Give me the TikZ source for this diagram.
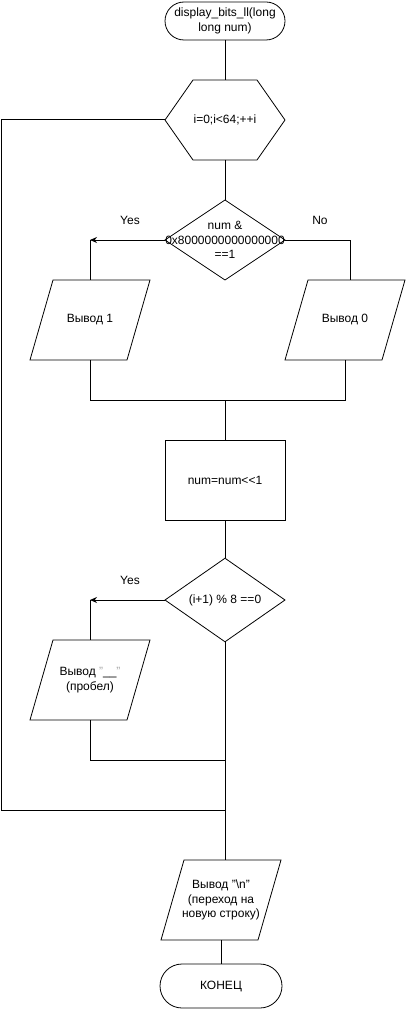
\documentclass[tikz,border=0pt]{standalone}
\usepackage{fontspec}
\setmainfont{Liberation Sans}
\usetikzlibrary{shapes.geometric,arrows.meta}
\newcommand\ioshape[1]{\draw[shp] ([xshift=11.5pt]#1.north west) -- ([xshift=11.5pt]#1.north east) -- ([xshift=-11.5pt]#1.south east) -- ([xshift=-11.5pt]#1.south west) -- cycle;}
\begin{document}
\begin{tikzpicture}[x=1pt,y=-1pt,
  every node/.style={font=\fontsize{12}{14.5}\selectfont, inner sep=0pt, outer sep=0pt, align=center},
  shp/.style={draw=black, line width=0.8pt},
  term/.style={shp, rectangle, rounded corners=19pt, minimum width=120pt, minimum height=38pt},
  proc/.style={shp, rectangle, minimum width=120pt, minimum height=80pt},
  dia/.style={shp, diamond, minimum width=120pt, minimum height=80pt},
  frame/.style={draw=none, rectangle, minimum width=97pt, minimum height=80pt},
  conn/.style={draw=black, line width=1pt},
  arr/.style={conn, -{Stealth[length=7pt,width=6pt]}}
]
\useasboundingbox (0,0) rectangle (405,1011);
% nodes
\node[term] (t1) at (225,21) {display\_bits\_ll(long\\long num)};
\node[frame, minimum width=120pt] (h) at (225,120) {i=0;i<64;++i};
\draw[shp] (h.west) -- ([xshift=28pt]h.north west) -- ([xshift=-28pt]h.north east) -- (h.east) -- ([xshift=-28pt]h.south east) -- ([xshift=28pt]h.south west) -- cycle;
\node[dia] (d1) at (225,240) {};
\node (d1t) at (225,240) {num \&\\0x8000000000000000\\==1};
\node[frame] (p1) at (90,320) {Вывод 1};
\ioshape{p1}
\node[frame] (p2) at (345,320) {Вывод 0};
\ioshape{p2}
\node[proc] (r) at (225,480) {num=num<{}<1};
\node[dia] (d2) at (225,600) {(i+1) \% 8 ==0};
\node[frame] (p3) at (90,680) {Вывод \textcolor{black!35}{"}\_\_\textcolor{black!35}{"}\\(пробел)};
\ioshape{p3}
\node[frame] (p4) at (221,900) {Вывод "\textbackslash n"\\(переход на\\новую строку)};
\ioshape{p4}
\node[term, minimum width=122pt, minimum height=44pt, rounded corners=22pt] (t2) at (221,986) {КОНЕЦ};
% labels
\node (yes1) at (130,220) {Yes};
\node (no1) at (320,220) {No};
\node (yes2) at (130,580) {Yes};
% coordinates
\coordinate (c1) at (90,240);
\coordinate (c2) at (350,240);
\coordinate (m1) at (225,400);
\coordinate (c3) at (90,600);
\coordinate (j1) at (225,760);
\coordinate (l1) at (1,120);
\coordinate (j2) at (225,810);
% connectors
\draw[conn] (t1.south) -- (h.north);
\draw[conn] (h.south) -- (d1.north);
\draw[arr] (d1.west) -- (c1);
\draw[conn] (c1) -- (p1.north);
\draw[conn] (d1.east) -- (c2) -- (c2 |- p2.north);
\draw[conn] (p1.south) |- (m1);
\draw[conn] (p2.south) |- (m1);
\draw[conn] (m1) -- (r.north);
\draw[conn] (r.south) -- (d2.north);
\draw[arr] (d2.west) -- (c3);
\draw[conn] (c3) -- (p3.north);
\draw[conn] (p3.south) |- (j1);
\draw[conn] (h.west) -- (l1) |- (j2);
\draw[conn] (d2.south) -- (d2.south |- p4.north);
\draw[conn] (p4.south) -- (t2.north);
\end{tikzpicture}
\end{document}
